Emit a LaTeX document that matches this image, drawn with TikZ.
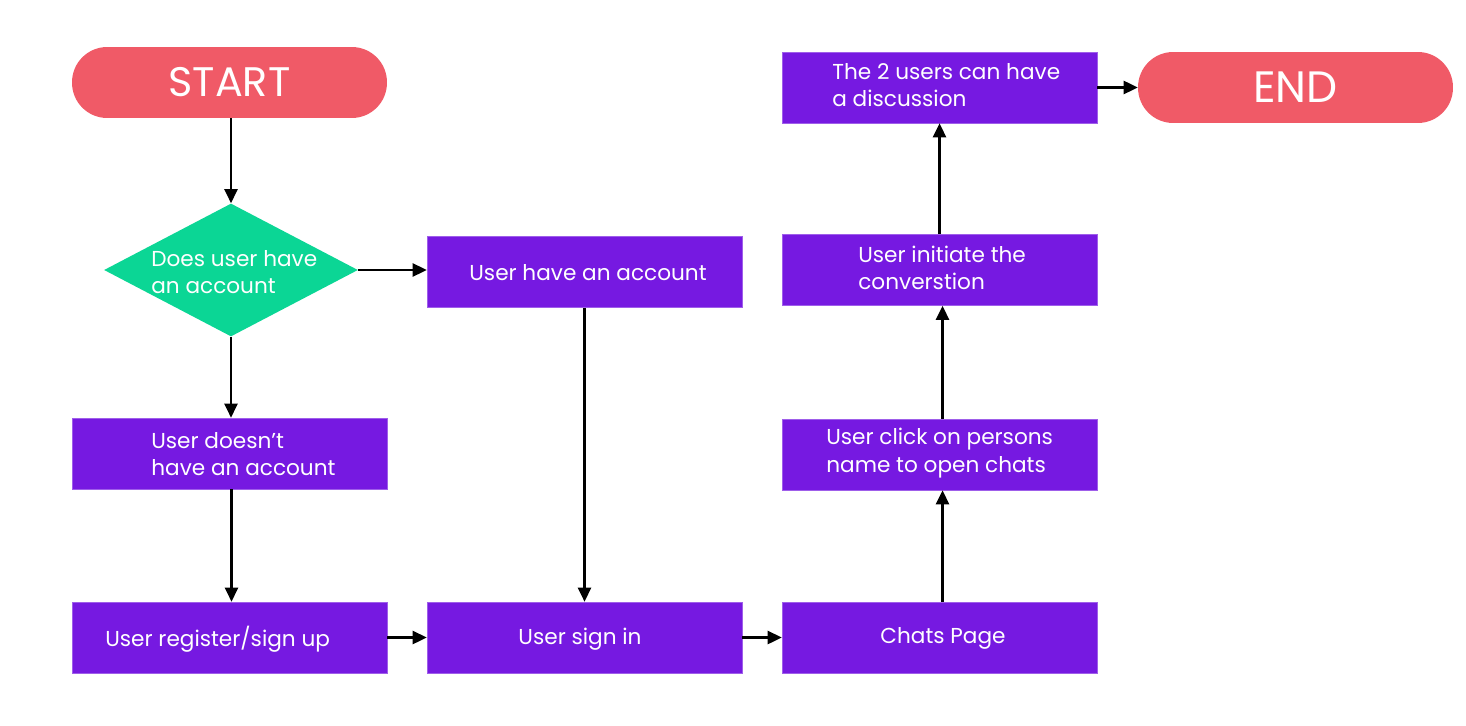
\documentclass[tikz,border=0pt]{standalone}
\usepackage{fontspec}
\setmainfont{Poppins}
\usetikzlibrary{shapes.geometric,arrows.meta}
\definecolor{boxpurple}{HTML}{7619E1}
\definecolor{pillred}{HTML}{F05A67}
\definecolor{diagreen}{HTML}{0BD695}
\tikzset{
  px/.style={x=0.02cm,y=-0.02cm},
  stepbox/.style={rectangle,fill=boxpurple,draw=boxpurple!70!white,line width=0.4pt,minimum width=6.3cm,minimum height=1.42cm,inner sep=0pt},
  pill/.style={rectangle,rounded corners=20pt,fill=pillred,minimum width=6.3cm,minimum height=1.42cm,inner sep=0pt,text=white,font=\fontsize{23.5}{27}\selectfont},
  decision/.style={diamond,fill=diagreen,minimum width=5.08cm,minimum height=2.66cm,inner sep=0pt},
  lbl/.style={anchor=west,text=white,align=left,inner sep=0pt,font=\fontsize{12.3}{15.5}\selectfont},
  lblc/.style={text=white,align=center,inner sep=0pt,font=\fontsize{12.3}{15.5}\selectfont},
  arr/.style={-{Triangle[length=8pt,width=7.5pt]},line width=1.3pt,black},
}
\begin{document}
\begin{tikzpicture}[px]
\useasboundingbox (0,0) rectangle (1466,726);
% nodes
\node[pill] (start) at (229.5,82.5) {START};
\node[pill] (end) at (1295.5,87.5) {\fontsize{25}{28}\selectfont END};
\node[decision] (dec) at (231,270) {};
\node[stepbox] (have) at (584.5,272) {};
\node[stepbox] (nohave) at (229.5,453.5) {};
\node[stepbox] (reg) at (229.5,637.5) {};
\node[stepbox] (signin) at (584.5,637.5) {};
\node[stepbox] (chats) at (939.5,637.5) {};
\node[stepbox] (click) at (939.5,454.5) {};
\node[stepbox] (init) at (939.5,270) {};
\node[stepbox] (disc) at (939.5,87.5) {};
% labels
\node[lbl] (tdec) at (151,272) {Does user have\\an account};
\node[lblc] (thave) at (588,273) {User have an account};
\node[lbl] (tnohave) at (151,454) {User doesn't\\have an account};
\node[lbl] (treg) at (105,639) {User register/sign up};
\node[lblc] (tsignin) at (580,639) {User sign in};
\node[lblc] (tchats) at (943,638) {Chats Page};
\node[lbl] (tclick) at (826,453) {User click on persons\\name to open chats};
\node[lbl] (tinit) at (858,268) {User initiate the\\converstion};
\node[lbl] (tdisc) at (832,85) {The 2 users can have\\a discussion};
% connectors
\draw[arr] (start.south -| dec.north) -- (dec.north);
\draw[arr] (dec.east) -- (dec.east -| have.west);
\draw[arr] (dec.south) -- (dec.south |- nohave.north);
\draw[arr] ([xshift=0.04cm]nohave.south) -- ([xshift=0.04cm]reg.north);
\draw[arr] (have.south) -- (have.south |- signin.north);
\draw[arr] (reg.east) -- (signin.west);
\draw[arr] (signin.east) -- (chats.west);
\draw[arr] ([xshift=0.06cm]chats.north) -- ([xshift=0.06cm]click.south);
\draw[arr] ([xshift=0.06cm]click.north) -- ([xshift=0.06cm]init.south);
\draw[arr] (init.north) -- (disc.south);
\draw[arr] (disc.east) -- (disc.east -| end.west);
\end{tikzpicture}
\end{document}
